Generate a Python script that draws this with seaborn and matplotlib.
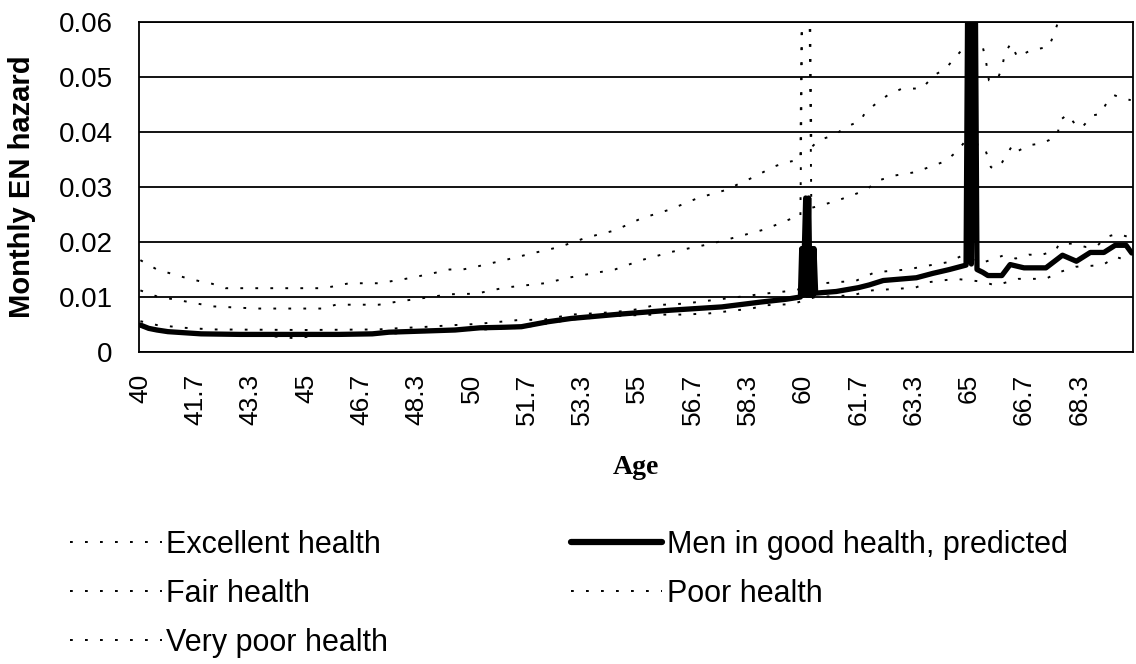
import numpy as np
import pandas as pd
import matplotlib
matplotlib.use("Agg")
import matplotlib.pyplot as plt
import seaborn as sns
from matplotlib.lines import Line2D

# ---------------- data (age in years, monthly EN hazard) ----------------
good_age = [40.00, 40.25, 40.50, 40.83, 41.33, 41.83, 43.00, 44.50, 46.00, 47.00,
            47.50, 48.50, 49.50, 50.25, 51.00, 51.50, 52.30, 53.00, 54.50, 56.00,
            57.55, 58.75, 59.50, 59.92, 59.96, 60.00, 60.04, 60.08, 60.12, 60.17,
            60.21, 60.25, 60.29, 60.33, 60.38,
            61.00, 61.67, 62.00, 62.42, 63.42, 63.92, 64.42, 64.92, 65.00, 65.08,
            65.17, 65.25, 65.42, 65.58, 66.00, 66.25, 66.67, 67.33, 67.83, 68.25,
            68.67, 69.08, 69.42, 69.75, 69.92]
good_val = [0.0049, 0.0043, 0.0040, 0.0037, 0.0035, 0.0033, 0.0032, 0.0032, 0.0032, 0.0033,
            0.0036, 0.0038, 0.0040, 0.0044, 0.0045, 0.0046, 0.0055, 0.0061, 0.0069, 0.0076,
            0.0082, 0.0091, 0.0096, 0.0100, 0.0188, 0.0103, 0.0188, 0.0280, 0.0103, 0.0280,
            0.0103, 0.0188, 0.0103, 0.0188, 0.0107,
            0.0110, 0.0117, 0.0122, 0.0130, 0.0135, 0.0143, 0.0150, 0.0158, 0.0950, 0.0160,
            0.0950, 0.0150, 0.0145, 0.0139, 0.0139, 0.0159, 0.0153, 0.0153, 0.0176, 0.0165,
            0.0181, 0.0181, 0.0194, 0.0194, 0.0180]

excellent_age = [40.00, 40.50, 41.33, 42.00, 43.50, 44.67, 45.50, 47.00, 48.50, 50.00,
                 51.50, 53.00, 54.50, 55.50, 56.33, 57.14, 58.45, 58.85, 59.67, 60.37,
                 61.48, 62.08, 63.39, 63.80, 64.60, 65.40, 65.81, 66.50, 67.32, 67.73,
                 68.23, 69.04, 69.44, 69.75, 69.92]
excellent_val = [0.0046, 0.0039, 0.0034, 0.0032, 0.0031, 0.0025, 0.0031, 0.0032, 0.0036, 0.0040,
                 0.0044, 0.0059, 0.0066, 0.0068, 0.0068, 0.0070, 0.0079, 0.0085, 0.0087, 0.0100,
                 0.0103, 0.0112, 0.0117, 0.0127, 0.0133, 0.0128, 0.0121, 0.0133, 0.0133, 0.0145,
                 0.0155, 0.0158, 0.0173, 0.0167, 0.0165]

fair_age = [40.00, 40.50, 41.33, 42.17, 45.00, 47.17, 48.00, 48.42, 49.50, 50.17,
            51.39, 52.20, 53.00, 53.92, 54.72, 55.12, 55.50, 56.42, 56.83, 57.64,
            58.83, 59.75, 60.47, 60.97, 61.58, 62.17, 63.14, 63.95, 64.35, 64.80,
            65.40, 66.07, 66.42, 66.82, 67.17, 67.63, 67.73, 68.13, 68.53, 68.88,
            69.14, 69.49, 69.83]
fair_val = [0.0056, 0.0049, 0.0044, 0.0041, 0.0040, 0.0041, 0.0044, 0.0045, 0.0049, 0.0051,
            0.0058, 0.0059, 0.0068, 0.0071, 0.0075, 0.0079, 0.0085, 0.0088, 0.0091, 0.0097,
            0.0106, 0.0112, 0.0124, 0.0127, 0.0129, 0.0145, 0.0150, 0.0159, 0.0163, 0.0175,
            0.0162, 0.0176, 0.0170, 0.0177, 0.0176, 0.0185, 0.0197, 0.0197, 0.0191, 0.0193,
            0.0209, 0.0215, 0.0209]

poor_age = [40.00, 40.50, 41.36, 42.17, 43.50, 45.50, 45.90, 47.20, 47.80, 48.42,
            49.33, 50.13, 50.99, 52.20, 53.00, 54.32, 55.12, 56.03, 57.24, 58.05,
            58.85, 59.67, 59.92, 60.00, 60.08, 60.17, 60.25, 60.62, 61.02, 61.48,
            61.88, 62.28, 62.78, 63.39, 63.80, 64.30, 64.65, 64.85, 65.46, 65.67,
            65.81, 66.01, 66.32, 66.47, 66.82, 67.17, 67.42, 67.68, 67.75, 67.98,
            68.28, 68.43, 68.73, 68.98, 69.19, 69.39, 69.64, 69.89]
poor_val = [0.0112, 0.0101, 0.0092, 0.0083, 0.0079, 0.0079, 0.0086, 0.0086, 0.0092, 0.0097,
            0.0105, 0.0106, 0.0117, 0.0125, 0.0136, 0.0150, 0.0167, 0.0182, 0.0197, 0.0210,
            0.0223, 0.0243, 0.0246, 0.0800, 0.0800, 0.0800, 0.0262, 0.0268, 0.0275, 0.0285,
            0.0294, 0.0312, 0.0321, 0.0327, 0.0336, 0.0347, 0.0365, 0.0380, 0.0376, 0.0336,
            0.0333, 0.0345, 0.0376, 0.0365, 0.0376, 0.0379, 0.0385, 0.0394, 0.0421, 0.0432,
            0.0409, 0.0409, 0.0430, 0.0433, 0.0456, 0.0467, 0.0461, 0.0458]

verypoor_age = [40.00, 40.50, 40.90, 41.36, 41.77, 42.17, 42.57, 45.50, 45.90, 46.30,
                47.20, 47.60, 48.00, 48.42, 48.82, 49.33, 49.73, 50.13, 50.99, 51.80,
                52.65, 53.46, 54.32, 55.12, 55.98, 56.83, 57.64, 58.40, 59.16, 59.51,
                59.92, 60.00, 60.08, 60.17, 60.25, 60.47, 60.97, 61.28, 61.73, 61.88,
                62.23, 62.58, 62.99, 63.59, 63.95, 64.30, 64.60, 64.85, 65.41, 65.51,
                65.61, 65.86, 66.01, 66.09, 66.27, 66.47, 66.82, 67.17, 67.42, 67.58,
                67.68, 67.90, 68.28, 68.60, 69.20, 69.92]
verypoor_val = [0.0167, 0.0150, 0.0143, 0.0135, 0.0129, 0.0124, 0.0116, 0.0116, 0.0120, 0.0125,
                0.0125, 0.0129, 0.0133, 0.0138, 0.0143, 0.0150, 0.0150, 0.0155, 0.0167, 0.0179,
                0.0191, 0.0208, 0.0221, 0.0243, 0.0259, 0.0280, 0.0294, 0.0315, 0.0338, 0.0345,
                0.0350, 0.0900, 0.0900, 0.0900, 0.0372, 0.0385, 0.0395, 0.0409, 0.0420, 0.0436,
                0.0453, 0.0468, 0.0479, 0.0479, 0.0503, 0.0515, 0.0536, 0.0553, 0.0558, 0.0533,
                0.0494, 0.0494, 0.0518, 0.0543, 0.0561, 0.0536, 0.0547, 0.0552, 0.0555, 0.0579,
                0.0597, 0.0625, 0.0597, 0.0625, 0.0640, 0.0650]

x_tick_labels = ["40", "41.7", "43.3", "45", "46.7", "48.3", "50", "51.7", "53.3",
                 "55", "56.7", "58.3", "60", "61.7", "63.3", "65", "66.7", "68.3"]
y_ticks = [0, 0.01, 0.02, 0.03, 0.04, 0.05, 0.06]
y_tick_labels = ["0", "0.01", "0.02", "0.03", "0.04", "0.05", "0.06"]

labels = ["Excellent health", "Men in good health, predicted", "Fair health",
          "Poor health", "Very poor health"]

# ---------------- plotting ----------------
sns.set_style("white")
plt.rcParams["font.family"] = ["Liberation Sans", "DejaVu Sans"]
plt.rcParams["lines.scale_dashes"] = False
plt.rcParams["text.color"] = "black"
plt.rcParams["axes.labelcolor"] = "black"
plt.rcParams["xtick.color"] = "black"
plt.rcParams["ytick.color"] = "black"

fig = plt.figure(figsize=(11.36, 6.64), dpi=100)
ax = fig.add_axes([139 / 1136, 1 - 352 / 664, (1133 - 139) / 1136, (352 - 22) / 664])

DOT = (0, (2.0, 8.8))
dot_kw = dict(color="black", lw=1.4, linestyle=DOT, dash_capstyle="butt")

sns.lineplot(x=verypoor_age, y=verypoor_val, ax=ax, estimator=None, **dot_kw)
sns.lineplot(x=poor_age, y=poor_val, ax=ax, estimator=None, **dot_kw)
sns.lineplot(x=fair_age, y=fair_val, ax=ax, estimator=None, **dot_kw)
sns.lineplot(x=excellent_age, y=excellent_val, ax=ax, estimator=None, **dot_kw)
sns.lineplot(x=good_age, y=good_val, ax=ax, estimator=None, color="black", lw=3.8,
             solid_joinstyle="round")

ax.set_xlim(40 - 1 / 24, 69 + 11 / 12 + 1 / 24)
ax.set_ylim(0, 0.06)
ax.set_xticks(40 + np.arange(len(x_tick_labels)) * 20 / 12)
ax.set_xticklabels(x_tick_labels, rotation=90, fontsize=19, color="black")
ax.set_yticks(y_ticks)
ax.set_yticklabels(y_tick_labels, fontsize=20, color="black")
ax.tick_params(axis="x", length=0, pad=16)
ax.tick_params(axis="y", length=8, width=1.2, color="black", direction="out", pad=11)
ax.yaxis.grid(True, color="black", lw=1.3)
ax.set_axisbelow(True)
for s in ax.spines.values():
    s.set_visible(True)
    s.set_color("black")
    s.set_linewidth(1.3)

ax.set_ylabel("Monthly EN hazard", fontsize=21, fontweight="bold", labelpad=16, color="black")
ax.set_xlabel("Age", fontsize=20, fontweight="bold", family=["Liberation Serif"], labelpad=21,
              color="black")

h_dot = lambda: Line2D([], [], **dot_kw)
handles = [h_dot(), h_dot(), h_dot(),
           Line2D([], [], color="black", lw=4.5, solid_capstyle="round"), h_dot()]
hl = [labels[0], labels[2], labels[4], labels[1], labels[3]]
leg = fig.legend(handles, hl, loc="upper left", bbox_to_anchor=(70 / 1136, 1 - 530 / 664),
                 ncol=2, frameon=False, fontsize=22, handlelength=3.0, handletextpad=0.15,
                 columnspacing=5.97, labelspacing=0.62, borderpad=0, borderaxespad=0)
for t in leg.get_texts():
    t.set_color("black")

fig.savefig("out.png", dpi=100)
